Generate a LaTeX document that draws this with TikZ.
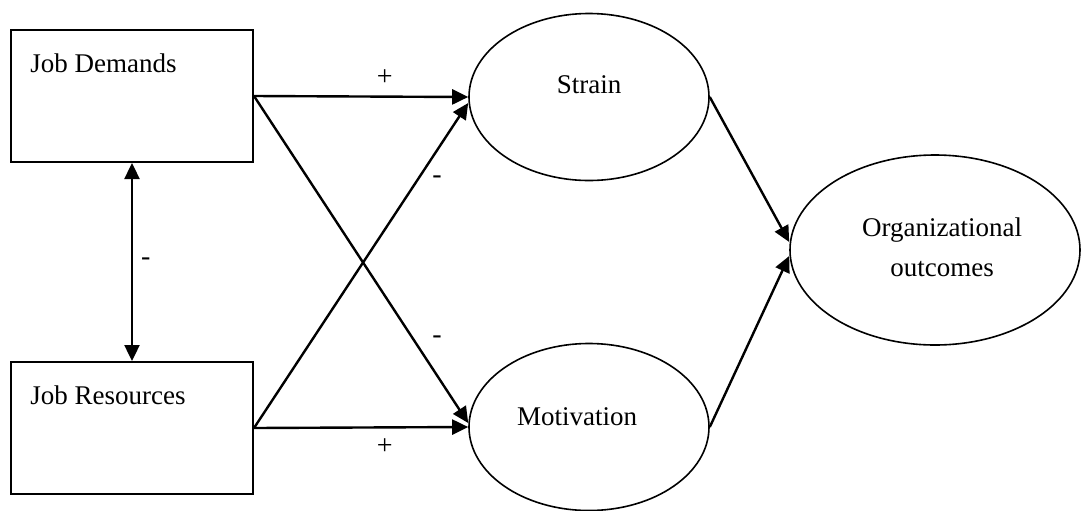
\documentclass[tikz,border=0pt]{standalone}
\usepackage{fontspec}
\setmainfont{Liberation Serif}
\usetikzlibrary{positioning}
\usetikzlibrary{shapes.geometric}
\usetikzlibrary{arrows.meta}
\tikzset{
  % A construct measured directly: plain box, name in the top left corner
  construct/.style={
    draw=black, line width=1pt, rectangle, inner sep=0pt,
    minimum width=121pt, minimum height=66pt},
  % A latent state or outcome
  latent/.style={
    draw=black, line width=0.8pt, ellipse, inner sep=0pt,
    minimum width=#1},
  % Paths between constructs
  link/.style={-{Triangle[length=8pt,width=7.5pt]}, line width=1.2pt},
  twoway/.style={{Triangle[length=8pt,width=7.5pt]}-{Triangle[length=8pt,width=7.5pt]}, line width=1.2pt},
  sign/.style={font=\fontsize{14}{16}\selectfont, inner sep=1pt},
  caption/.style={font=\fontsize{13.5}{16}\selectfont, inner sep=0pt},
}

\begin{document}
\begin{tikzpicture}[x=0.5pt, y=-0.5pt]

\useasboundingbox (0,0) rectangle (1083,510);

\node[construct] (demands) at (132,96) {};
\node[caption, anchor=west] (demandstext) at ([xshift=10pt,yshift=-17pt]demands.north west) {Job Demands};

\node[construct] (resources) at (132,428) {};
\node[caption, anchor=west] (resourcestext) at ([xshift=10pt,yshift=-17pt]resources.north west) {Job Resources};

\node[latent=120pt, minimum height=83.5pt] (strain) at (589,97) {};
\node[caption] (straintext) at ([yshift=6pt]strain.center) {Strain};

\node[latent=120pt, minimum height=83.5pt] (motivation) at (589,427) {};
\node[caption] (motivationtext) at ([xshift=-6pt,yshift=5pt]motivation.center) {Motivation};

\node[latent=145pt, minimum height=95pt] (outcomes) at (935,250) {};
\node[caption, align=center, font=\fontsize{13.5}{20}\selectfont] (outcomestext)
  at ([xshift=3.5pt,yshift=1.5pt]outcomes.center) {Organizational\\outcomes};

\draw[twoway] (demands.south) -- node[sign, right=3pt]{-} (resources.north);

\draw[link] (demands.east) -- node[sign, pos=0.61, above=4pt]{+} (strain.west);
\draw[link] (demands.east) -- ([yshift=2pt]motivation.west);
\draw[link] (resources.east) -- ([yshift=-3pt]strain.west);
\draw[link] (resources.east) -- node[sign, pos=0.61, below=4pt]{+} (motivation.west);

\node[sign] (minusstrain) at (437,180) {-};
\node[sign] (minusmotivation) at (437,340) {-};

\draw[link] (strain.east) -- ([yshift=4pt]outcomes.west);
\draw[link] (motivation.east) -- ([yshift=-3pt]outcomes.west);

\end{tikzpicture}
\end{document}
